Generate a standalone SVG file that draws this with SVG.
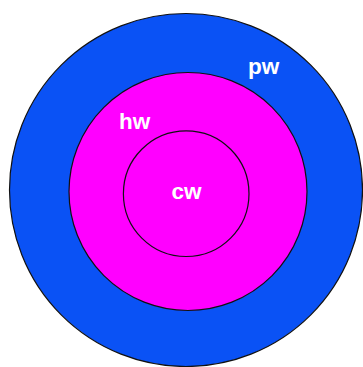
<svg xmlns="http://www.w3.org/2000/svg" width="363" height="367" viewBox="0 0 363 367">
<style>
.c{stroke:#111;stroke-width:1.2}
.t{font-family:"Liberation Sans",Arial,sans-serif;font-weight:bold;font-size:22.5px;fill:#fff}
</style>
<rect width="363" height="367" fill="#fff"/>
<g id="pw"><circle class="c" cx="186" cy="190" r="176.5" fill="#0A52F5"/><text class="t" x="248" y="74">pw</text></g>
<g id="hw"><circle class="c" cx="188" cy="191.5" r="119" fill="#FF00FF"/><text class="t" x="119" y="128.5">hw</text></g>
<g id="cw"><circle class="c" cx="186.2" cy="193.7" r="62.8" fill="#FF00FF"/><text class="t" x="171.5" y="199">cw</text></g>
<g id="connectors"/>
</svg>
